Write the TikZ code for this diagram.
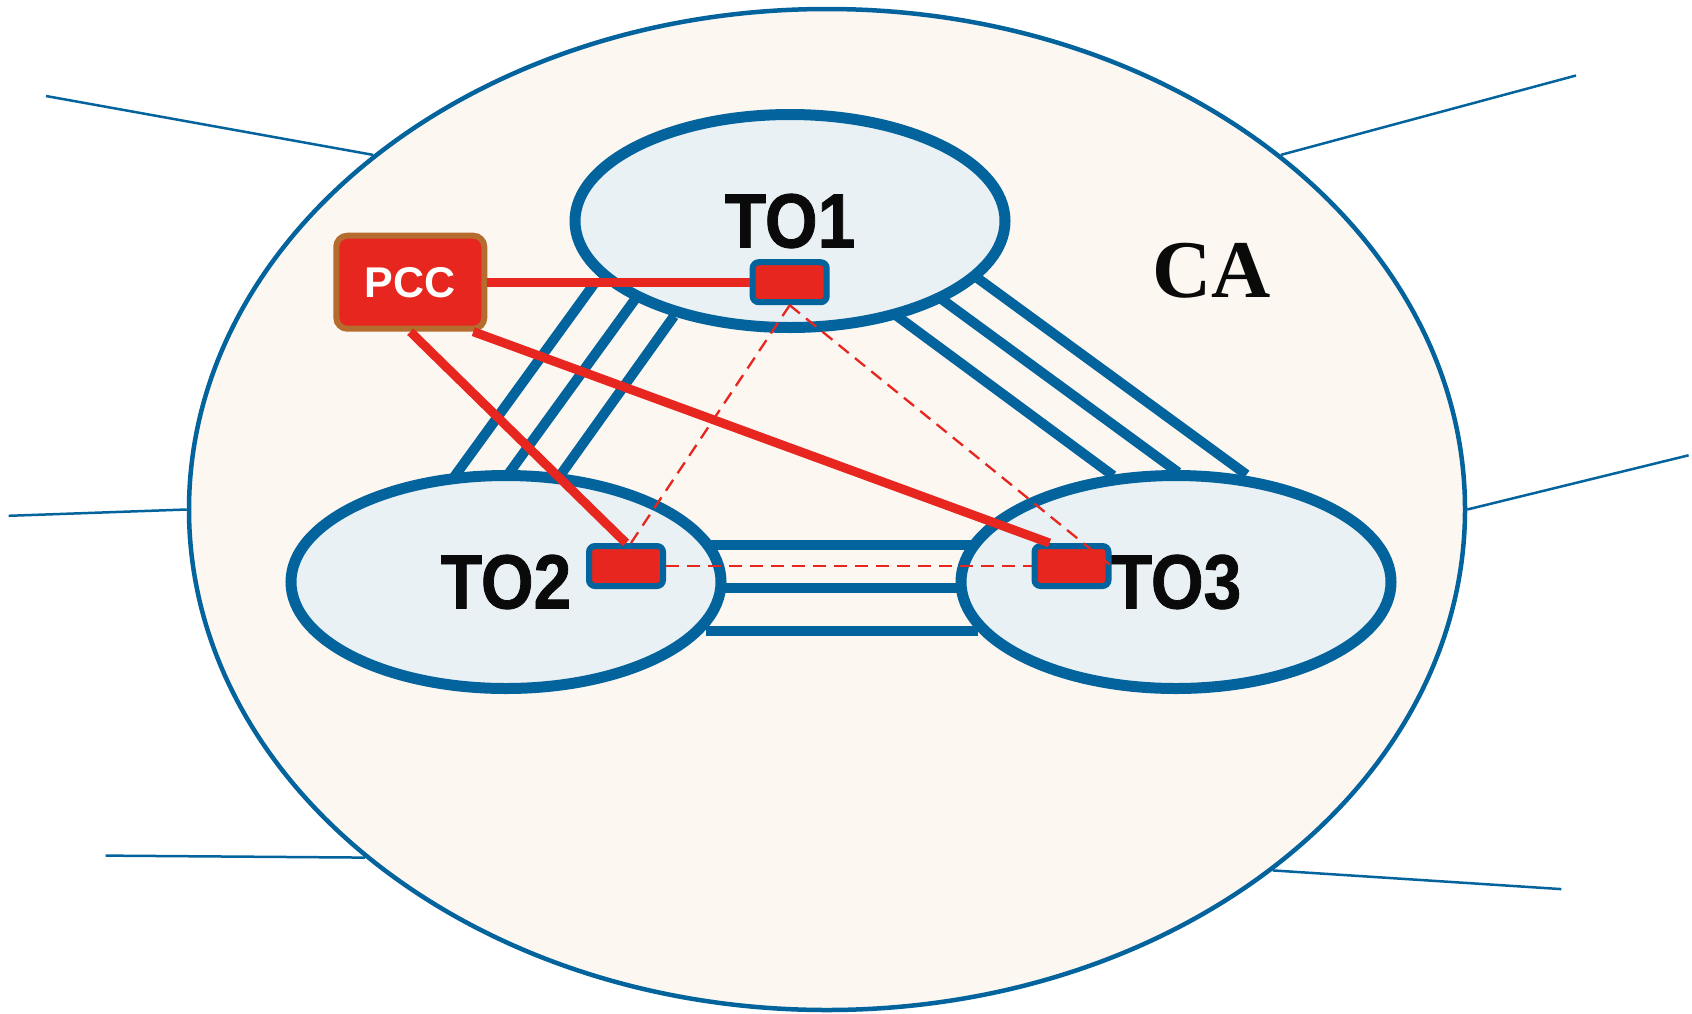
\documentclass[tikz,border=0pt]{standalone}
\usepackage{fontspec}
\setmainfont{Liberation Serif}
\setsansfont{Liberation Sans}
\newfontfamily\opfont[FakeStretch=0.88, BoldFeatures={FakeBold=1}]{Liberation Sans}
\usetikzlibrary{positioning,shapes.geometric,calc}
\definecolor{sea}   {HTML}{03639C}
\definecolor{alarm} {HTML}{E6261F}
\definecolor{rust}  {HTML}{B56C2E}
\definecolor{sand}  {HTML}{FCF7F1}
\definecolor{ice}   {HTML}{E9F1F4}
\definecolor{ink}   {HTML}{0A0A0A}
\pgfdeclarelayer{ground}
\pgfdeclarelayer{links}
\pgfsetlayers{ground,links,main}
\tikzset{
  % --- nodes
  area/.style = {ellipse, draw=sea, fill=sand, line width=4.5pt, inner sep=0pt,
                 minimum width=1276pt, minimum height=1001pt},
  op/.style   = {ellipse, draw=sea, fill=ice, line width=11pt, inner sep=0pt,
                 minimum width=430pt, minimum height=213pt, text=ink,
                 font=\opfont\bfseries\fontsize{77pt}{80pt}\selectfont},
  unit/.style = {rectangle, rounded corners=6pt, draw=sea, fill=alarm, line width=6pt,
                 inner sep=0pt, minimum width=74pt, minimum height=40pt},
  ctrl/.style = {rectangle, rounded corners=11pt, draw=rust, fill=alarm, line width=6pt,
                 inner sep=0pt, minimum width=148pt, minimum height=93pt, text=white,
                 font=\sffamily\bfseries\fontsize{43pt}{45pt}\selectfont},
  tag/.style  = {inner sep=0pt, text=ink, font=\rmfamily\bfseries\fontsize{82pt}{84pt}\selectfont},
  % --- edges
  tie/.style  = {draw=sea, line width=2.5pt},
  link/.style = {draw=sea, line width=10pt},
  feed/.style = {draw=alarm, line width=9pt},
  peer/.style = {draw=alarm, line width=2.3pt, dash pattern=on 13pt off 8pt},
}

\begin{document}
\begin{tikzpicture}[x=1pt, y=-1pt]
  \useasboundingbox (0,0) rectangle (1692,1013);

  % control area
  \begin{pgfonlayer}{ground}
    \node[area] (CA) at (827,509.5) {};
  \end{pgfonlayer}
  \node[tag] (calabel) at (1212,271) {CA};

  % lines leaving the area
  \coordinate (nw) at (46,96);
  \coordinate (ne) at (1576,75.5);
  \coordinate (w)  at (8.6,515.8);
  \coordinate (e)  at (1688.6,455.3);
  \coordinate (sw) at (105.7,855.6);
  \coordinate (se) at (1561.3,889.1);
  \draw[tie] (nw) -- (CA.142);
  \draw[tie] (ne) -- (CA.38.3);
  \draw[tie] (w)  -- (CA.180);
  \draw[tie] (e)  -- (CA.0.2);
  \draw[tie] (sw) -- (CA.217.9);
  \draw[tie] (se) -- (CA.321.9);

  % transmission operators
  \node[op] (TO1) at (790,221)   {TO1};
  \node[op] (TO2) at (506,582)   {TO2};
  \node[op] (TO3) at (1176,582)  {TO3};

  \begin{pgfonlayer}{links}
    \draw[link] ($(TO2.center)+(-51.6,-105.5)$) -- ($(TO1.center)+(-194.4,60.8)$);
    \draw[link] ($(TO2.center)+(1.7,-107.1)$)   -- ($(TO1.center)+(-154.4,77.5)$);
    \draw[link] ($(TO2.center)+(53.4,-105.5)$)  -- ($(TO1.center)+(-116,95.1)$);
    \draw[link] ($(TO1.center)+(106.8,94.9)$)   -- ($(TO3.center)+(-62.8,-106.3)$);
    \draw[link] ($(TO1.center)+(151.8,78.3)$)   -- ($(TO3.center)+(2.2,-109.6)$);
    \draw[link] ($(TO1.center)+(186.8,56.6)$)   -- ($(TO3.center)+(70.5,-107.3)$);
    \draw[link] ($(TO2.center)+(200,-36.6)$)    -- ($(TO3.center)+(-198,-36.6)$);
    \draw[link] ($(TO2.center)+(208.5,6.2)$)    -- ($(TO3.center)+(-212,6.2)$);
    \draw[link] ($(TO2.center)+(200,49)$)       -- ($(TO3.center)+(-198,49)$);
  \end{pgfonlayer}

  % coordination centre and the units it talks to
  \node[ctrl] (PCC) at (410.3,282.2) {PCC};
  \node[unit] (TO1box) at (789.7,282.2) {};
  \node[unit] (TO2box) at (626,566) {};
  \node[unit] (TO3box) at (1071.5,566) {};

  \draw[feed] (PCC.east) -- (TO1box.west);
  \draw[feed] (PCC.south) -- (TO2box.north);
  \draw[feed] ($(PCC.south)+(63,0)$) -- ($(TO3box.north)+(-22,0)$);

  \draw[peer] (TO1box.south) -- ($(TO2box.north)+(5,0)$);
  \draw[peer] (TO1box.south) -- (TO3box.east);
  \draw[peer] (TO2box.east) -- (TO3box.west);
\end{tikzpicture}
\end{document}
